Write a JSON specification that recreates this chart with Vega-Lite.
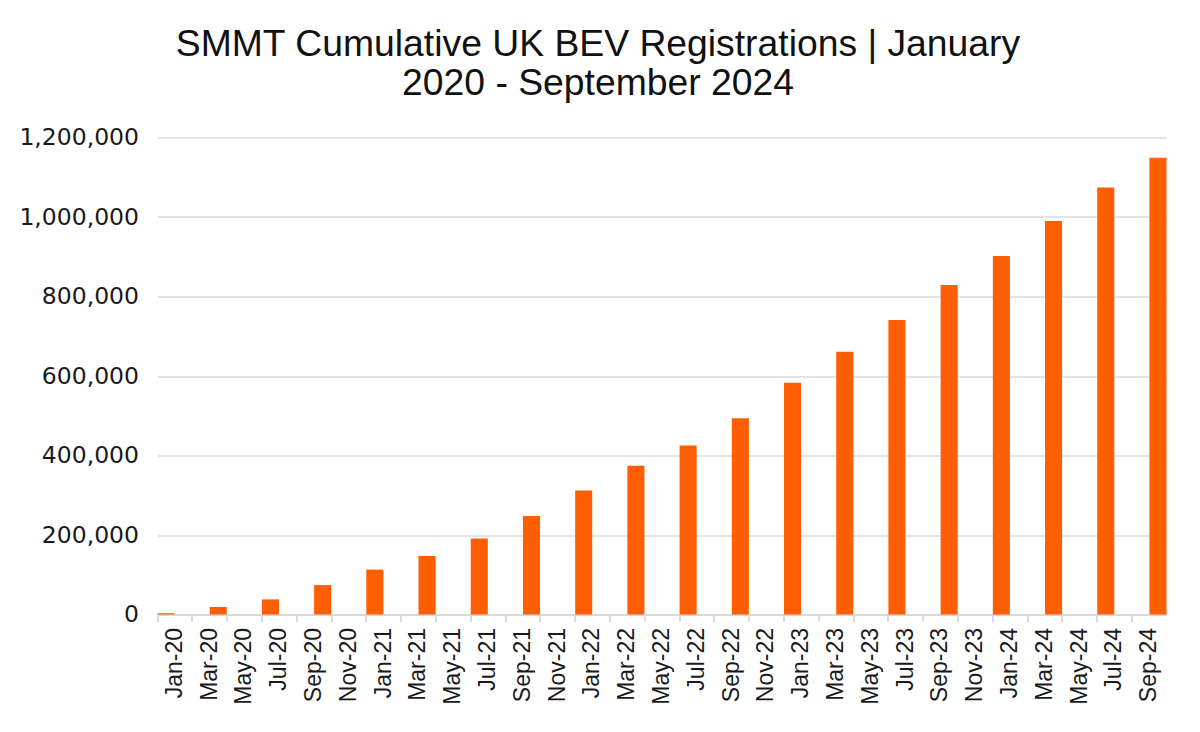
{
  "$schema": "https://vega.github.io/schema/vega-lite/v6.json",
  "width": 1009,
  "height": 477,
  "autosize": {"type": "none"},
  "padding": {"left": 157.5, "top": 137.5, "right": 33.5, "bottom": 117.5},
  "background": "#ffffff",
  "title": {
    "text": ["SMMT Cumulative UK BEV Registrations | January", "2020 - September 2024"],
    "anchor": "middle",
    "frame": "group",
    "dx": -64,
    "offset": 22,
    "font": "Liberation Sans",
    "fontSize": 37.3,
    "fontWeight": "normal",
    "lineHeight": 39,
    "color": "#111111"
  },
  "config": {"view": {"stroke": null}},
  "data": {
    "values": [
      {"month": "Jan-20", "registrations": 3300},
      {"month": "Apr-20", "registrations": 19000},
      {"month": "Jul-20", "registrations": 38000},
      {"month": "Oct-20", "registrations": 74000},
      {"month": "Jan-21", "registrations": 113000},
      {"month": "Apr-21", "registrations": 147000},
      {"month": "Jul-21", "registrations": 191000},
      {"month": "Oct-21", "registrations": 248000},
      {"month": "Jan-22", "registrations": 312000},
      {"month": "Apr-22", "registrations": 374000},
      {"month": "Jul-22", "registrations": 425000},
      {"month": "Oct-22", "registrations": 494000},
      {"month": "Jan-23", "registrations": 583000},
      {"month": "Apr-23", "registrations": 661000},
      {"month": "Jul-23", "registrations": 741000},
      {"month": "Oct-23", "registrations": 829000},
      {"month": "Jan-24", "registrations": 902000},
      {"month": "Apr-24", "registrations": 990000},
      {"month": "Jul-24", "registrations": 1074000},
      {"month": "Oct-24", "registrations": 1149000}
    ]
  },
  "mark": {"type": "bar", "color": "#FF5F00"},
  "encoding": {
    "x": {
      "field": "month",
      "type": "ordinal",
      "sort": null,
      "scale": {
        "domain": ["Jan-20","Feb-20","Mar-20","Apr-20","May-20","Jun-20","Jul-20","Aug-20","Sep-20","Oct-20","Nov-20","Dec-20",
                   "Jan-21","Feb-21","Mar-21","Apr-21","May-21","Jun-21","Jul-21","Aug-21","Sep-21","Oct-21","Nov-21","Dec-21",
                   "Jan-22","Feb-22","Mar-22","Apr-22","May-22","Jun-22","Jul-22","Aug-22","Sep-22","Oct-22","Nov-22","Dec-22",
                   "Jan-23","Feb-23","Mar-23","Apr-23","May-23","Jun-23","Jul-23","Aug-23","Sep-23","Oct-23","Nov-23","Dec-23",
                   "Jan-24","Feb-24","Mar-24","Apr-24","May-24","Jun-24","Jul-24","Aug-24","Sep-24","Oct-24"],
        "paddingInner": 0.02,
        "paddingOuter": 0
      },
      "axis": {
        "title": null,
        "values": ["Jan-20","Mar-20","May-20","Jul-20","Sep-20","Nov-20",
                   "Jan-21","Mar-21","May-21","Jul-21","Sep-21","Nov-21",
                   "Jan-22","Mar-22","May-22","Jul-22","Sep-22","Nov-22",
                   "Jan-23","Mar-23","May-23","Jul-23","Sep-23","Nov-23",
                   "Jan-24","Mar-24","May-24","Jul-24","Sep-24"],
        "bandPosition": 0,
        "labelOffset": 8.7,
        "labelAngle": -90,
        "labelFont": "Liberation Sans",
        "labelFontSize": 23,
        "labelColor": "#1a1a1a",
        "labelPadding": 6,
        "domainColor": "#d9d9d9",
        "domainWidth": 2,
        "tickColor": "#d0d0d0",
        "tickSize": 7,
        "tickWidth": 1.5,
        "grid": false
      }
    },
    "y": {
      "field": "registrations",
      "type": "quantitative",
      "scale": {"domain": [0, 1200000], "nice": false},
      "axis": {
        "title": null,
        "values": [0, 200000, 400000, 600000, 800000, 1000000, 1200000],
        "format": ",.0f",
        "domain": false,
        "ticks": false,
        "grid": true,
        "gridColor": "#e4e4e4",
        "gridWidth": 2,
        "labelFont": "DejaVu Sans",
        "labelFontSize": 23.5,
        "labelColor": "#1a1a1a",
        "labelPadding": 19
      }
    }
  }
}
